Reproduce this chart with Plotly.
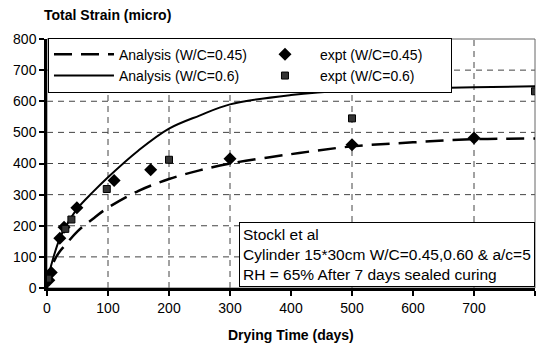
import plotly.graph_objects as go

# Analysis curves
x_analysis = [0, 5, 10, 20, 30, 50, 75, 100, 150, 200, 250, 300, 400, 500, 600, 700, 800]
analysis_045 = [0, 45, 80, 115, 138, 182, 222, 258, 312, 350, 378, 400, 430, 455, 468, 478, 480]
analysis_060 = [0, 58, 95, 155, 195, 256, 308, 356, 442, 512, 554, 590, 620, 635, 641, 645, 648]

# Experimental points
x_expt_045 = [3, 7, 21, 28, 49, 110, 170, 300, 500, 700]
y_expt_045 = [25, 50, 160, 195, 258, 345, 380, 415, 460, 482]
x_expt_060 = [2, 30, 40, 98, 200, 500, 800]
y_expt_060 = [30, 190, 220, 318, 412, 545, 632]

x_ticks = [0, 100, 200, 300, 400, 500, 600, 700, 800]
y_ticks = [0, 100, 200, 300, 400, 500, 600, 700, 800]
x_grid = [100, 200, 300, 500, 700]
y_grid = [100, 200, 300, 400, 500, 600, 700]

FONT = "Liberation Sans"

fig = go.Figure()
fig.add_trace(go.Scatter(x=x_analysis, y=analysis_045, mode="lines", line_shape="spline",
                         line=dict(color="black", width=2.5, dash="18px,9px"),
                         name="Analysis (W/C=0.45)"))
fig.add_trace(go.Scatter(x=x_expt_045, y=y_expt_045, mode="markers",
                         marker=dict(symbol="diamond", size=10, color="black"),
                         name="expt (W/C=0.45)"))
fig.add_trace(go.Scatter(x=x_analysis, y=analysis_060, mode="lines", line_shape="spline",
                         line=dict(color="black", width=2),
                         name="Analysis (W/C=0.6)"))
fig.add_trace(go.Scatter(x=x_expt_060, y=y_expt_060, mode="markers",
                         marker=dict(symbol="square", size=7, color="#333",
                                     line=dict(color="black", width=1)),
                         name="expt (W/C=0.6)"))

shapes = []
for gx in x_grid:
    shapes.append(dict(type="line", xref="x", yref="paper", x0=gx, x1=gx, y0=0, y1=1,
                       line=dict(color="#444", width=1, dash="6px,5px"), layer="below"))
for gy in y_grid:
    shapes.append(dict(type="line", xref="paper", yref="y", x0=0, x1=1, y0=gy, y1=gy,
                       line=dict(color="#444", width=1, dash="6px,5px"), layer="below"))
# frame (top & right)
shapes.append(dict(type="rect", xref="paper", yref="paper", x0=0, x1=1, y0=0, y1=1,
                   line=dict(color="#666", width=1), layer="below"))

fig.update_layout(
    width=545, height=346,
    margin=dict(l=47, r=10, t=39, b=58),
    paper_bgcolor="white", plot_bgcolor="white",
    font=dict(family=FONT, size=14, color="black"),
    showlegend=True,
    legend=dict(orientation="h", x=0.002, y=1.005, xanchor="left", yanchor="top",
                entrywidth=126, itemwidth=60, bgcolor="white",
                bordercolor="black", borderwidth=1,
                font=dict(family=FONT, size=14), tracegroupgap=0,
                itemsizing="trace"),
    shapes=shapes,
    annotations=[
        dict(text="<b>Total Strain (micro)</b>", xref="paper", yref="paper",
             x=-0.01, y=1.0, xanchor="left", yanchor="bottom", yshift=14,
             showarrow=False, font=dict(family=FONT, size=14)),
        dict(text="<b>Drying Time (days)</b>", xref="paper", yref="paper",
             x=0.5, y=0.0, xanchor="center", yanchor="middle", yshift=-47,
             showarrow=False, font=dict(family=FONT, size=14)),
        dict(text="Stockl et al<br>Cylinder 15*30cm W/C=0.45,0.60 &amp; a/c=5<br>RH = 65% After 7 days sealed curing",
             xref="paper", yref="paper", x=0.999, y=0.004, xanchor="right", yanchor="bottom",
             align="left", showarrow=False, bgcolor="white", bordercolor="black",
             borderwidth=1, borderpad=3, font=dict(family=FONT, size=15.5)),
    ],
    xaxis=dict(range=[0, 800], tickvals=x_ticks, showgrid=False, zeroline=False,
               showline=True, linecolor="black", linewidth=2.5,
               ticks="outside", ticklen=5, tickwidth=2, tickcolor="black",
               tickfont=dict(family=FONT, size=14)),
    yaxis=dict(range=[0, 800], tickvals=y_ticks, showgrid=False, zeroline=False,
               showline=True, linecolor="black", linewidth=2.5,
               ticks="outside", ticklen=5, tickwidth=2, tickcolor="black",
               tickfont=dict(family=FONT, size=14)),
)

fig.write_html("out.html")
